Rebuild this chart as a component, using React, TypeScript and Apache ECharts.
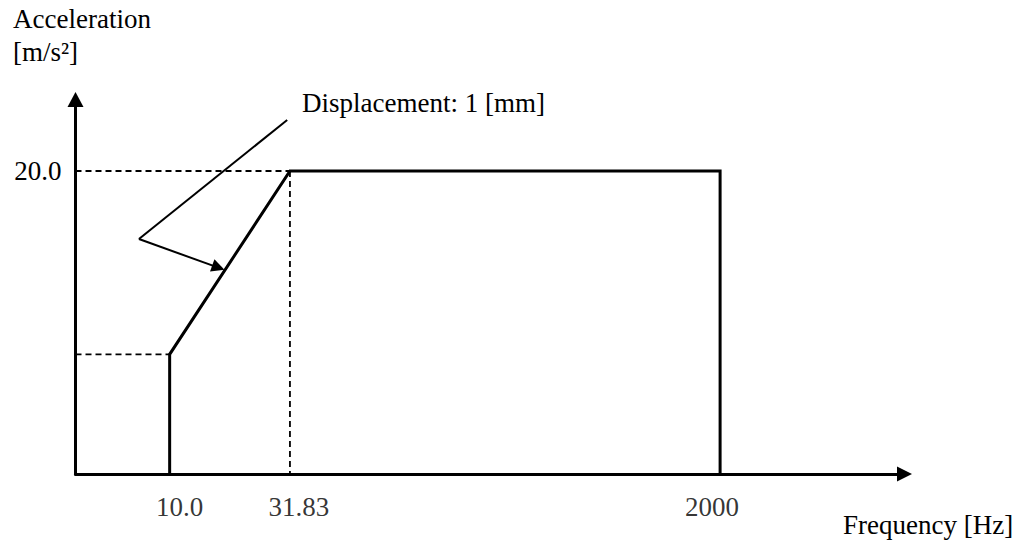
import React, { useEffect, useRef } from 'react';
import * as echarts from 'echarts';

// ---- data ----
const tickFreqs = [10, 31.83, 2000];
const tickLabels = ['10.0', '31.83', '2000'];
const profileFreq = [10, 10, 31.83, 2000, 2000];
const profileAccel = [0, 7.9, 20, 20, 0];
const yTickValue = 20;
const yTickLabel = '20.0';
const axisFreqMin = 4.04;
const axisFreqMax = 11800;
const axisAccelMax = 24.72;
const leaderStart = [31.0, 23.37];
const leaderVertex = [7.44, 15.51];
const leaderArrowEnd = [15.98, 13.62];
const annotationText = 'Displacement: 1 [mm]';
const yTitleLines = ['Acceleration', '[m/s\u00b2]'];
const xTitle = 'Frequency [Hz]';

// ---- styles ----
const FONT = "'Liberation Serif', 'Times New Roman', serif";
const FS = 27;
const tickLabelNudge = [10, 9, -8];

export default function App() {
  const ref = useRef<HTMLDivElement>(null);
  useEffect(() => {
    if (!ref.current) return;
    const chart = echarts.init(ref.current, undefined, { renderer: 'svg' });
    const profile = profileFreq.map((f, i) => [f, profileAccel[i]]);
    const lowCorner = profile[1];
    const highCorner = profile[2];
    const dashed = (data: number[][]) => ({
      type: 'line',
      data,
      showSymbol: false,
      symbol: 'none',
      silent: true,
      lineStyle: { color: '#000', width: 1.8, type: [6, 4] },
      z: 2,
    });
    const axisLineStyle = { color: '#000', width: 3 };
    chart.setOption({
      animation: false,
      backgroundColor: '#fff',
      grid: { left: 75.5, right: 116.5, top: 99.5, bottom: 66, containLabel: false },
      xAxis: {
        type: 'log',
        logBase: 10,
        min: axisFreqMin,
        max: axisFreqMax,
        axisLine: {
          show: true,
          onZero: false,
          lineStyle: axisLineStyle,
          symbol: ['none', 'triangle'],
          symbolSize: [15, 15],
        },
        axisTick: { show: false },
        axisLabel: { show: false },
        splitLine: { show: false },
        minorTick: { show: false },
      },
      yAxis: {
        type: 'value',
        min: 0,
        max: axisAccelMax,
        interval: 20,
        axisLine: {
          show: true,
          onZero: false,
          lineStyle: axisLineStyle,
          symbol: ['none', 'triangle'],
          symbolSize: [16, 15],
        },
        axisTick: { show: false },
        splitLine: { show: false },
        axisLabel: {
          formatter: (v: number) => (v === yTickValue ? yTickLabel : ''),
          color: '#000',
          fontSize: FS,
          fontFamily: FONT,
          margin: 14,
        },
      },
      series: [
        dashed([[axisFreqMin, lowCorner[1]], lowCorner]),
        dashed([[axisFreqMin, highCorner[1]], highCorner]),
        dashed([highCorner, [highCorner[0], 0]]),
        {
          type: 'line',
          data: profile,
          showSymbol: false,
          symbol: 'none',
          silent: true,
          lineStyle: { color: '#000', width: 3, join: 'miter' },
          z: 3,
        },
        {
          type: 'lines',
          coordinateSystem: 'cartesian2d',
          silent: true,
          symbol: ['none', 'none'],
          lineStyle: { color: '#000', width: 2, opacity: 1, curveness: 0 },
          data: [{ coords: [leaderStart, leaderVertex] }],
          z: 4,
        },
        {
          type: 'lines',
          coordinateSystem: 'cartesian2d',
          silent: true,
          symbol: ['none', 'triangle'],
          symbolSize: 13,
          lineStyle: { color: '#000', width: 2, opacity: 1, curveness: 0 },
          data: [{ coords: [leaderVertex, leaderArrowEnd] }],
          z: 4,
        },
        {
          type: 'scatter',
          silent: true,
          clip: false,
          symbol: 'circle',
          symbolSize: 2,
          itemStyle: { color: 'rgba(0,0,0,0)' },
          data: tickFreqs.map((f, i) => ({
            value: [f, 0],
            label: { formatter: tickLabels[i], offset: [tickLabelNudge[i], 0] },
          })),
          label: {
            show: true,
            position: 'bottom',
            distance: 18,
            color: '#000',
            fontSize: FS,
            lineHeight: FS,
            fontFamily: FONT,
          },
          z: 5,
        },
      ],
      graphic: [
        { type: 'text', x: 13, y: 19, style: { text: yTitleLines[0], fill: '#000', font: `${FS}px ${FONT}`, verticalAlign: 'middle' } },
        { type: 'text', x: 13, y: 52, style: { text: yTitleLines[1], fill: '#000', font: `${FS}px ${FONT}`, verticalAlign: 'middle' } },
        { type: 'text', x: 302, y: 103, style: { text: annotationText, fill: '#000', font: `${FS}px ${FONT}`, verticalAlign: 'middle' } },
        { type: 'text', x: 843, y: 525, style: { text: xTitle, fill: '#000', font: `${FS}px ${FONT}`, verticalAlign: 'middle' } },
      ],
    });
    return () => chart.dispose();
  }, []);
  return (
    <div
      ref={ref}
      style={{ position: 'fixed', left: 0, top: 0, width: 1021, height: 540, background: '#fff' }}
    />
  );
}
